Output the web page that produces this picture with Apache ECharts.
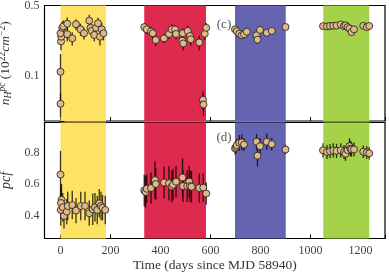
<!DOCTYPE html>
<html><head><meta charset="utf-8">
<script src="https://cdn.jsdelivr.net/npm/echarts@6/dist/echarts.min.js"></script>
<style>html,body{margin:0;padding:0;background:#fff}#c{width:389px;height:272px}</style>
</head><body><div id="c"></div>
<script>
// Observation windows (days since MJD 58940)
const bandStart = [0, 335, 698, 1051];
const bandEnd   = [182, 582, 901, 1235];

// Top panel: n_H^pc (1e22 cm^-2)
const nhDays = [0,0,2,3,0,7,11,27,27,47,62,80,94,115,120,125,135,142,150,158,165,172,
  335,345,362,369,381,414,434,445,458,462,489,487,491,509,518,521,555,570,572,577,583,
  698,705,715,725,734,745,784,788,798,825,845,900,
  1050,1066,1078,1091,1104,1121,1134,1140,1148,1156,1164,1174,1211,1225,1235];
const nhVals = [0.11,0.053,0.22,0.245,0.265,0.30,0.31,0.33,0.26,0.236,0.326,0.29,0.265,0.354,0.30,0.28,0.255,0.30,0.333,0.245,0.29,0.265,
  0.305,0.29,0.276,0.265,0.227,0.236,0.261,0.29,0.29,0.261,0.265,0.224,0.21,0.279,0.249,0.231,0.215,0.058,0.052,0.262,0.30,
  0.29,0.278,0.263,0.253,0.259,0.275,0.253,0.229,0.286,0.268,0.28,0.306,
  0.312,0.31,0.313,0.314,0.316,0.324,0.312,0.318,0.305,0.296,0.272,0.29,0.314,0.305,0.313];
const nhErr = [0.055,0.014,0.04,0.04,0.035,0.045,0.045,0.05,0.04,0.035,0.04,0.04,0.035,0.05,0.045,0.04,0.035,0.04,0.045,0.045,0.045,0.04,
  0.03,0.03,0.03,0.03,0.03,0.025,0.03,0.035,0.03,0.03,0.03,0.03,0.03,0.035,0.035,0.03,0.035,0.012,0.012,0.035,0.035,
  0.01,0.012,0.012,0.012,0.012,0.012,0.015,0.02,0.012,0.015,0.012,0.01,
  0.006,0.006,0.006,0.006,0.006,0.006,0.006,0.006,0.008,0.008,0.008,0.008,0.006,0.006,0.006];

// Bottom panel: pcf
const pcfDays = [0,4,2,1,9,14,25,29,47,62,81,98,115,129,138,147,155,162,168,179,
  335,340,345,362,378,381,414,434,445,450,462,488,490,507,515,518,524,555,571,583,
  698,702,705,715,725,734,784,788,798,825,845,900,
  1050,1066,1078,1091,1104,1121,1134,1140,1148,1156,1160,1164,1174,1211,1225,1235];
const pcfVals = [0.66,0.50,0.48,0.436,0.453,0.398,0.425,0.461,0.467,0.432,0.461,0.461,0.415,0.44,0.453,0.436,0.478,0.461,0.45,0.436,
  0.56,0.55,0.57,0.575,0.625,0.60,0.61,0.605,0.585,0.595,0.615,0.642,0.587,0.587,0.615,0.587,0.583,0.575,0.577,0.54,
  0.826,0.835,0.846,0.861,0.864,0.85,0.868,0.78,0.84,0.868,0.853,0.819,
  0.814,0.803,0.808,0.813,0.81,0.814,0.803,0.792,0.816,0.84,0.825,0.82,0.819,0.805,0.80,0.795];
const pcfErr = [0.15,0.1,0.1,0.1,0.09,0.08,0.08,0.09,0.09,0.08,0.09,0.09,0.08,0.1,0.09,0.09,0.09,0.09,0.08,0.09,
  0.1,0.1,0.09,0.1,0.12,0.1,0.1,0.11,0.1,0.1,0.1,0.12,0.1,0.1,0.1,0.1,0.1,0.09,0.09,0.07,
  0.04,0.04,0.04,0.05,0.05,0.04,0.05,0.07,0.05,0.05,0.04,0.03,
  0.045,0.045,0.045,0.045,0.045,0.045,0.045,0.045,0.045,0.05,0.05,0.045,0.045,0.04,0.04,0.04];

const xTickLabels = [0, 200, 400, 600, 800, 1000, 1200];
const nhTickLabels = [0.1, 0.5];
const pcfTickLabels = [0.4, 0.6, 0.8];
const panelTags = ['(c)', '(d)'];

const FONT = 'Liberation Serif';
const bandColors = ['#FEE263', '#DF2A50', '#6464B0', '#A4D248'];

const chart = echarts.init(document.getElementById('c'), null, {renderer: 'canvas'});

function near(v, list){ return list.some(t => Math.abs(v - t) < 1e-6 * Math.max(1, Math.abs(t))); }

function bandSeries(gi, yRef){
  return {
    type: 'custom', xAxisIndex: gi, yAxisIndex: gi, z: 1, silent: true,
    data: bandStart.map((s, i) => [s, bandEnd[i], yRef, i]),
    encode: {x: [0, 1], y: 2},
    renderItem: function(params, api){
      const cs = params.coordSys;
      const a = api.coord([api.value(0), yRef]);
      const b = api.coord([api.value(1), yRef]);
      return {type: 'rect', shape: {x: a[0], y: cs.y, width: b[0] - a[0], height: cs.height},
        style: {fill: bandColors[api.value(3)]}};
    }
  };
}
function errSeries(gi, days, vals, errs){
  return {
    type: 'custom', xAxisIndex: gi, yAxisIndex: gi, z: 3, silent: true,
    data: days.map((d, i) => [d, vals[i], errs[i]]),
    encode: {x: 0, y: 1},
    renderItem: function(params, api){
      const x = api.value(0), v = api.value(1), e = api.value(2);
      const p1 = api.coord([x, v - e]);
      const p2 = api.coord([x, v + e]);
      return {type: 'line', shape: {x1: p1[0], y1: p1[1], x2: p2[0], y2: p2[1]},
        style: {stroke: 'rgba(0,0,0,0.78)', lineWidth: 1.3}};
    }
  };
}
function ptSeries(gi, days, vals){
  return {
    type: 'scatter', xAxisIndex: gi, yAxisIndex: gi, z: 4, silent: true,
    data: days.map((d, i) => [d, vals[i]]),
    symbol: 'circle', symbolSize: 7,
    itemStyle: {color: '#DEB887', borderColor: '#1a1a1a', borderWidth: 0.8, opacity: 1}
  };
}

const tick = {show: true, inside: true, length: 4, lineStyle: {color: '#000', width: 1}};
const lbl = {fontFamily: FONT, fontSize: 12, color: '#444'};

chart.setOption({
  animation: false,
  backgroundColor: '#fff',
  grid: [
    {left: 44.5, right: 4, top: 5.5, height: 115.5, show: true, borderColor: '#000', borderWidth: 1.2, backgroundColor: 'transparent', containLabel: false, outerBoundsMode: 'none'},
    {left: 44.5, right: 4, top: 122.5, height: 116, show: true, borderColor: '#000', borderWidth: 1.2, backgroundColor: 'transparent', containLabel: false, outerBoundsMode: 'none'}
  ],
  xAxis: [
    {gridIndex: 0, type: 'value', min: -64, max: 1298, splitNumber: 7,
      axisLine: {show: false}, axisTick: tick, splitLine: {show: false}, axisLabel: {show: false}},
    {gridIndex: 1, type: 'value', min: -64, max: 1298, splitNumber: 7,
      axisLine: {show: false}, axisTick: tick, splitLine: {show: false},
      axisLabel: Object.assign({margin: 6, formatter: v => near(v, xTickLabels) ? String(Math.round(v)) : ''}, lbl),
      name: 'Time (days since MJD 58940)', nameLocation: 'middle', nameGap: 20,
      nameTextStyle: {fontFamily: FONT, fontSize: 13.5, color: '#333'}}
  ],
  yAxis: [
    {gridIndex: 0, type: 'log', logBase: 10, min: 0.0357, max: 0.5,
      axisLine: {show: false}, axisTick: tick, splitLine: {show: false}, minorTick: {show: false},
      axisLabel: Object.assign({margin: 5, formatter: v => near(v, nhTickLabels) ? v.toFixed(1) : ''}, lbl),
      name: '{it|n}{sub|H}{sup|pc} {rm|(10}{sup2|22}{it|cm}{sup2|−2}{rm|)}',
      nameLocation: 'middle', nameRotate: 90, nameGap: 23,
      nameTextStyle: {
        color: '#333',
        rich: {
          it: {fontFamily: FONT, fontStyle: 'italic', fontSize: 13.5, color: '#333', lineHeight: 16},
          rm: {fontFamily: FONT, fontSize: 13.5, color: '#333', lineHeight: 16},
          sub: {fontFamily: FONT, fontStyle: 'italic', fontSize: 9.5, color: '#333', lineHeight: 9, verticalAlign: 'bottom'},
          sup: {fontFamily: FONT, fontStyle: 'italic', fontSize: 9.5, color: '#333', lineHeight: 9, verticalAlign: 'top'},
          sup2: {fontFamily: FONT, fontSize: 9.5, color: '#333', lineHeight: 9, verticalAlign: 'top'}
        }
      }},
    {gridIndex: 1, type: 'value', min: 0.255, max: 0.99, splitNumber: 4,
      axisLine: {show: false}, axisTick: tick, splitLine: {show: false},
      axisLabel: Object.assign({margin: 5, formatter: v => near(v, pcfTickLabels) ? v.toFixed(1) : ''}, lbl),
      name: 'pcf', nameLocation: 'middle', nameRotate: 90, nameGap: 24,
      nameTextStyle: {fontFamily: FONT, fontStyle: 'italic', fontSize: 14, color: '#333'}}
  ],
  graphic: [
    {type: 'text', x: 224, y: 25, z: 10, silent: true,
      style: {text: panelTags[0], fontFamily: FONT, fontSize: 13, fill: '#555', align: 'center', verticalAlign: 'middle'}},
    {type: 'text', x: 224, y: 138, z: 10, silent: true,
      style: {text: panelTags[1], fontFamily: FONT, fontSize: 13, fill: '#555', align: 'center', verticalAlign: 'middle'}}
  ],
  series: [
    bandSeries(0, 0.3), bandSeries(1, 0.6),
    errSeries(0, nhDays, nhVals, nhErr), errSeries(1, pcfDays, pcfVals, pcfErr),
    ptSeries(0, nhDays, nhVals), ptSeries(1, pcfDays, pcfVals)
  ]
});
</script>
</body></html>
